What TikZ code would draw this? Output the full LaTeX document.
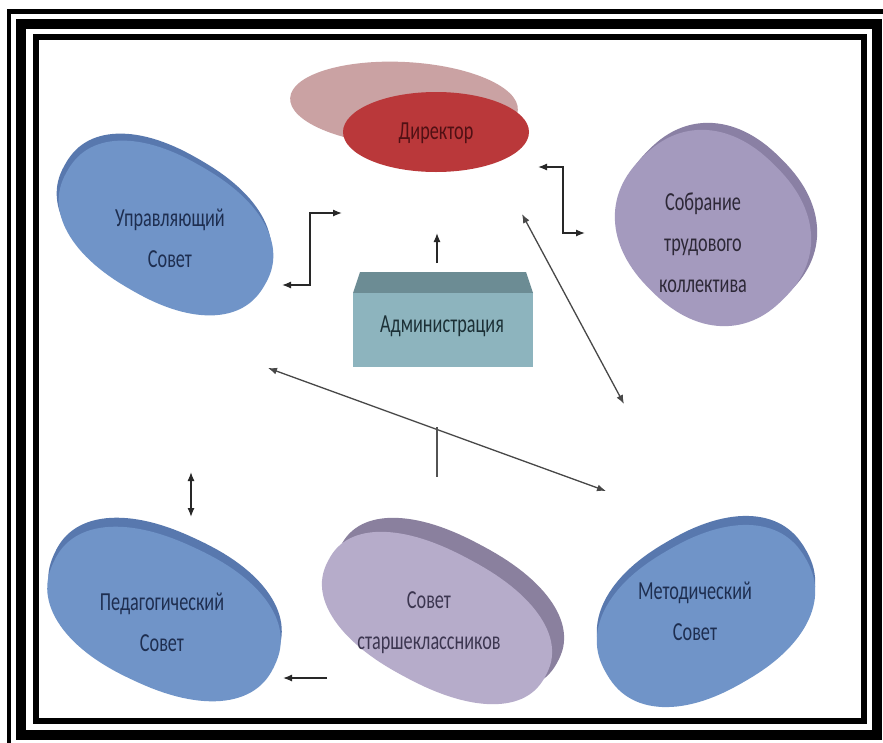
\documentclass[tikz,border=0pt]{standalone}
\usepackage{fontspec}
\newfontfamily\labfont[FakeStretch=0.7]{Carlito}
\usetikzlibrary{arrows.meta}
\definecolor{bluef}{RGB}{112,148,200}
\definecolor{blues}{RGB}{88,120,174}
\definecolor{purf}{RGB}{164,154,190}
\definecolor{purs}{RGB}{138,128,164}
\definecolor{lavf}{RGB}{182,172,202}
\definecolor{lavs}{RGB}{138,128,158}
\definecolor{dirback}{RGB}{202,162,163}
\definecolor{dirfront}{RGB}{186,56,58}
\definecolor{admtop}{RGB}{108,140,148}
\definecolor{admfront}{RGB}{141,180,190}
\definecolor{linec}{RGB}{40,40,40}
\newcommand\drawblob[6]{%
  \begin{scope}[shift={(#1,#2)}, rotate=#5]
    \fill[#6] plot[domain=1:361, samples=120]
      ({#3*sign(cos(\x))*abs(cos(\x))^0.88},{#4*sign(sin(\x))*abs(sin(\x))^0.88}) -- cycle;
  \end{scope}}
\begin{document}
\begin{tikzpicture}[x=1pt,y=-1pt,
  lab/.style={font=\labfont\fontsize{26}{41}\selectfont, align=center, inner sep=0pt},
  arr/.style={draw=linec, line width=1.3pt, {Latex[length=9pt,width=7pt]}-{Latex[length=9pt,width=7pt]}},
  arrone/.style={draw=linec, line width=1.3pt, -{Latex[length=9pt,width=7pt]}},
  plain/.style={draw=linec!80, line width=1.3pt}]
\useasboundingbox (0,0) rectangle (883,742);
\fill[white] (0,0) rectangle (883,742);
% frame
\begin{scope}
\clip (0,0) rectangle (883,742);
\draw[line width=4.5pt] (9,11.5) rectangle (900,760);
\draw[line width=10pt] (21,24) rectangle (877,734.5);
\draw[line width=6pt] (36,37) rectangle (863.5,721);
\end{scope}
% Director
\fill[dirback, rotate around={-3:(404,104)}] (404,104) ellipse [x radius=114, y radius=42];
\fill[dirfront] (436,132) ellipse [x radius=93, y radius=40];
\node[lab, text={rgb,255:red,80;green,16;blue,20}] (dir) at (436,133) {Директор};
% Upravlyayushchiy
\drawblob{164}{221}{114}{71}{-30}{blues}
\drawblob{166}{228}{114}{71}{-30}{bluef}
\node[lab, text={rgb,255:red,30;green,46;blue,80}] (upr) at (170,238) {Управляющий\\Совет};
% Sobranie
\drawblob{719}{221}{100}{88}{-45}{purs}
\drawblob{713}{228}{100}{88}{-45}{purf}
\node[lab, text={rgb,255:red,45;green,40;blue,55}] (sob) at (703,243) {Собрание\\трудового\\коллектива};
% Administration
\fill[admtop] (353,293) -- (360,272) -- (526,272) -- (533,293) -- cycle;
\fill[admfront] (353,293) rectangle (533,367);
\node[lab, text={rgb,255:red,28;green,48;blue,54}] (adm) at (442,326) {Администрация};
% Pedagogical
\drawblob{165}{605}{122}{73}{-25}{blues}
\drawblob{164}{614}{122}{73}{-25}{bluef}
\node[lab, text={rgb,255:red,30;green,46;blue,80}] (ped) at (162,622) {Педагогический\\Совет};
% Senior council
\drawblob{449}{604}{123}{67}{-28}{lavs}
\drawblob{437}{618}{123}{67}{-28}{lavf}
\node[lab, text={rgb,255:red,60;green,54;blue,80}] (sst) at (429,623) {Совет\\старшеклассников};
% Methodical
\drawblob{706}{607}{115}{76}{30}{blues}
\drawblob{706}{616}{115}{76}{30}{bluef}
\node[lab, text={rgb,255:red,30;green,46;blue,80}] (met) at (695,611) {Методический\\Совет};
% connector ends
\coordinate (ua) at (282,285);
\coordinate (ub) at (342,213);
\coordinate (da) at (538,167);
\coordinate (db) at (585,233);
\coordinate (aa) at (437,263);
\coordinate (ab) at (437,233);
\coordinate (ga) at (522,214);
\coordinate (gb) at (624,404);
\coordinate (ha) at (268,368);
\coordinate (hb) at (606,491);
\coordinate (va) at (437,427);
\coordinate (vb) at (437,477);
\coordinate (pa) at (191,472);
\coordinate (pb) at (191,517);
\coordinate (sa) at (327,678);
\coordinate (sb) at (283,678);
% connectors
\draw[arr] (ua) -- ++(28,0) |- (ub);
\draw[arr] (da) -- ++(25,0) |- (db);
\draw[arrone] (aa) -- (ab);
\draw[arr, draw=linec!85] (ga) -- (gb);
\draw[arr, draw=linec!85] (ha) -- (hb);
\draw[plain] (va) -- (vb);
\draw[arr] (pa) -- (pb);
\draw[arrone] (sa) -- (sb);
\end{tikzpicture}
\end{document}
